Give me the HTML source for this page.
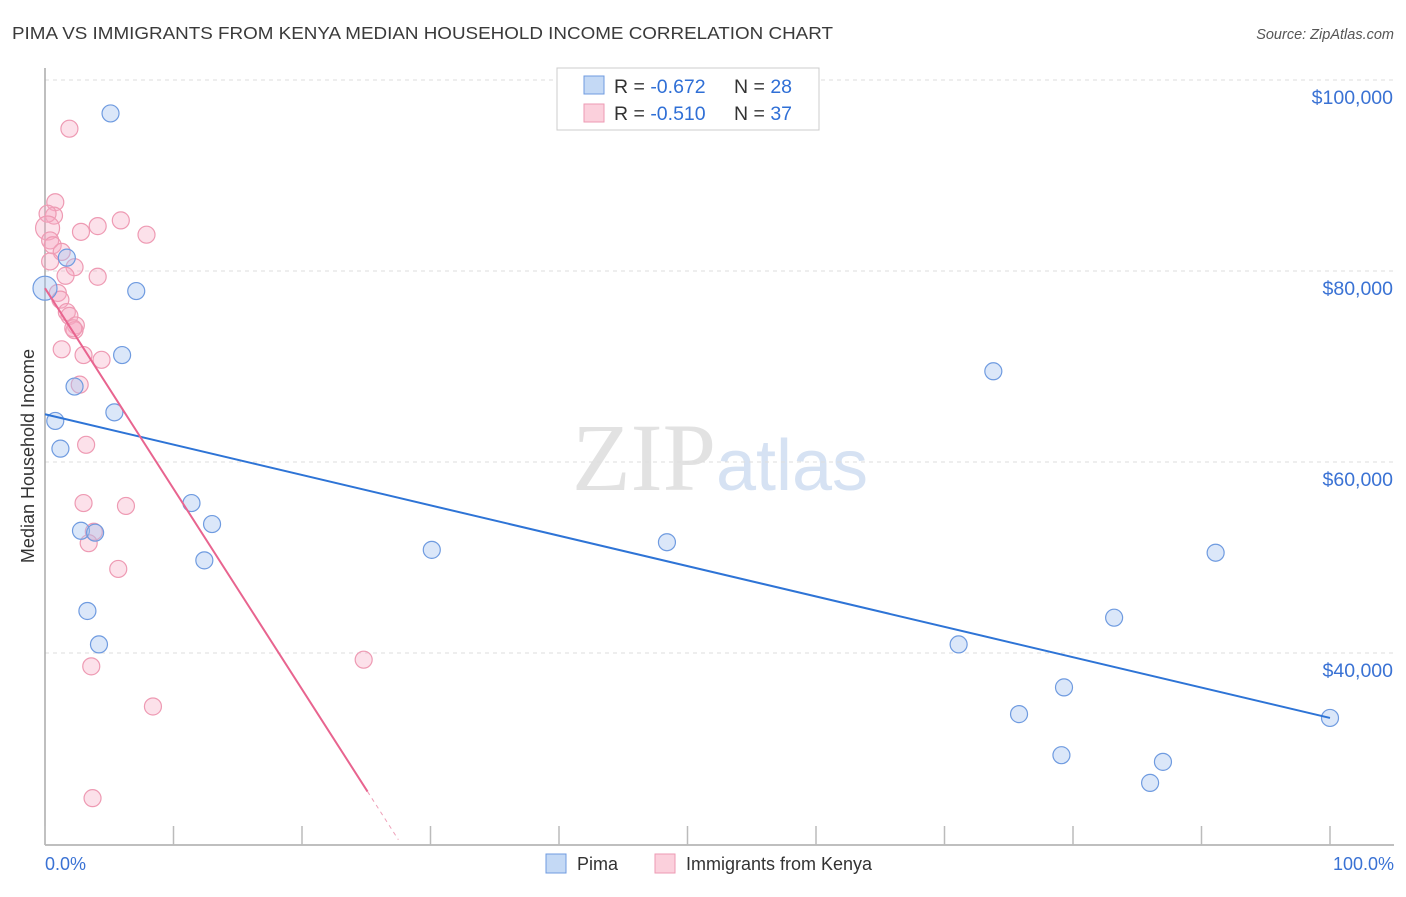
<!DOCTYPE html>
<html><head><meta charset="utf-8"><style>
body{margin:0;background:#fff;font-family:"Liberation Sans",sans-serif}
</style></head><body>
<svg id="chart" width="1406" height="892" xmlns="http://www.w3.org/2000/svg" font-family="Liberation Sans, sans-serif">
<text x="12" y="39" font-size="17.5" fill="#3a3a3a" textLength="821" lengthAdjust="spacingAndGlyphs">PIMA VS IMMIGRANTS FROM KENYA MEDIAN HOUSEHOLD INCOME CORRELATION CHART</text>
<text x="1394" y="39" font-size="14.5" fill="#555" text-anchor="end" font-style="italic">Source: ZipAtlas.com</text>
<text x="720" y="490" font-size="96" fill="#e2e2e2" text-anchor="middle" font-family="Liberation Serif, serif">ZIP<tspan fill="#d6e2f3" font-family="Liberation Sans, sans-serif" font-size="72">atlas</tspan></text>
<text transform="translate(34,456) rotate(-90)" font-size="18" fill="#333" text-anchor="middle">Median Household Income</text>
<g id="grid"></g><g id="axes"></g><g id="pts"></g><g id="lines"></g>
<g>
<rect x="557" y="68" width="262" height="62" fill="#fff" stroke="#ccc"/>
<rect x="584" y="76" width="20" height="18" fill="#c4d9f5" stroke="#6f9be0"/>
<text x="614" y="93" font-size="19.5" fill="#333">R = <tspan fill="#2f6fd6">-0.672</tspan></text>
<text x="734" y="93" font-size="19.5" fill="#333">N = <tspan fill="#2f6fd6">28</tspan></text>
<rect x="584" y="104" width="20" height="18" fill="#fbd0dc" stroke="#ee9ab3"/>
<text x="614" y="120" font-size="19.5" fill="#333">R = <tspan fill="#2f6fd6">-0.510</tspan></text>
<text x="734" y="120" font-size="19.5" fill="#333">N = <tspan fill="#2f6fd6">37</tspan></text>
</g>
<g>
<rect x="546" y="854" width="20" height="19" fill="#c4d9f5" stroke="#6f9be0"/>
<text x="577" y="870" font-size="18" fill="#333">Pima</text>
<rect x="655" y="854" width="20" height="19" fill="#fbd0dc" stroke="#ee9ab3"/>
<text x="686" y="870" font-size="18" fill="#333">Immigrants from Kenya</text>
</g>
<text x="45" y="870" font-size="18" fill="#3a72d4">0.0%</text>
<text x="1394" y="870" font-size="18" fill="#3a72d4" text-anchor="end">100.0%</text>
</svg>
<script>
const yTicks=[100000,80000,60000,40000];
const yTickLabels=["$100,000","$80,000","$60,000","$40,000"];
const xTicks=[0,10,20,30,40,50,60,70,80,90,100];
const pimaX=[5.1,1.7,0,7.1,6.0,2.3,5.4,0.8,1.2,11.4,13.0,2.8,3.9,12.4,30.1,48.4,3.3,4.2,73.8,71.1,83.2,91.1,79.3,75.8,79.1,87.0,86.0,100];
const pimaY=[96500,81400,78200,77900,71200,67900,65200,64300,61400,55700,53500,52800,52600,49700,50800,51600,44400,40900,69500,40900,43700,50500,36400,33600,29300,28600,26400,33200];
const kenyaX=[1.9,0.8,0.7,0.2,0.2,0.4,0.6,5.9,4.1,2.8,7.9,1.3,2.3,1.6,4.1,1.0,1.2,1.7,1.9,2.4,2.3,1.3,3.0,4.4,2.7,3.2,3.0,6.3,3.8,3.4,5.7,24.8,3.6,8.4,3.7,0.4,2.2];
const kenyaY=[94900,87200,85800,86000,84500,83200,82700,85300,84700,84100,83800,82000,80400,79500,79400,77700,77000,75700,75300,74300,73800,71800,71200,70700,68100,61800,55700,55400,52700,51500,48800,39300,38600,34400,24800,81000,74000];
const pimaTrend=[65000,33200];
const kenyaTrend=[78200,-2100];
const NS="http://www.w3.org/2000/svg";
const xs=v=>45+v*12.85;
const ys=v=>80+(100000-v)*0.00955;
function mk(tag,attrs,parent){const e=document.createElementNS(NS,tag);for(const k in attrs)e.setAttribute(k,attrs[k]);document.getElementById(parent).appendChild(e);return e;}
yTicks.forEach((t,i)=>{
 const l=mk('line',{x1:45,x2:1394,y1:ys(t),y2:ys(t),stroke:'#ddd','stroke-dasharray':'4,4'},'grid');
 
 
 const tx=mk('text',{x:1393,y:ys(t)+24,'font-size':19.5,fill:'#3a72d4','text-anchor':'end'},'grid');
 tx.textContent=yTickLabels[i];
 
 
});
const ax=mk('line',{x1:45,x2:45,y1:68,y2:845,stroke:'#aaa','stroke-width':1.5},'axes');


const bx=mk('line',{x1:45,x2:1394,y1:845,y2:845,stroke:'#aaa','stroke-width':1.5},'axes');


xTicks.forEach(t=>{const l=mk('line',{x1:xs(t),x2:xs(t),y1:826,y2:845,stroke:'#bbb','stroke-width':1.5},'axes');
 
 });
kenyaX.forEach((x,i)=>{const c=mk('circle',{cx:xs(x),cy:ys(kenyaY[i]),r:(i==4?12:8.5),fill:'rgba(247,170,195,0.35)',stroke:'#ee9ab3','stroke-width':1.2},'pts');
 
 });
pimaX.forEach((x,i)=>{const c=mk('circle',{cx:xs(x),cy:ys(pimaY[i]),r:(i==2?12:8.5),fill:'rgba(164,196,240,0.4)',stroke:'#6f9be0','stroke-width':1.2},'pts');
 
 });
const pl=mk('line',{x1:xs(0),y1:ys(pimaTrend[0]),x2:xs(100),y2:ys(pimaTrend[1]),stroke:'#2e74d6','stroke-width':2},'lines');


const kf=v=>kenyaTrend[0]+kenyaTrend[1]*v;
const kl=mk('line',{x1:xs(0),y1:ys(kf(0)),x2:xs(25.1),y2:ys(kf(25.1)),stroke:'#e8648f','stroke-width':2},'lines');


const kd=mk('line',{x1:xs(25.1),y1:ys(kf(25.1)),x2:xs(27.5),y2:ys(kf(27.5)),stroke:'#eea0b8','stroke-width':1,'stroke-dasharray':'4,4'},'lines');


</script>
</body></html>
